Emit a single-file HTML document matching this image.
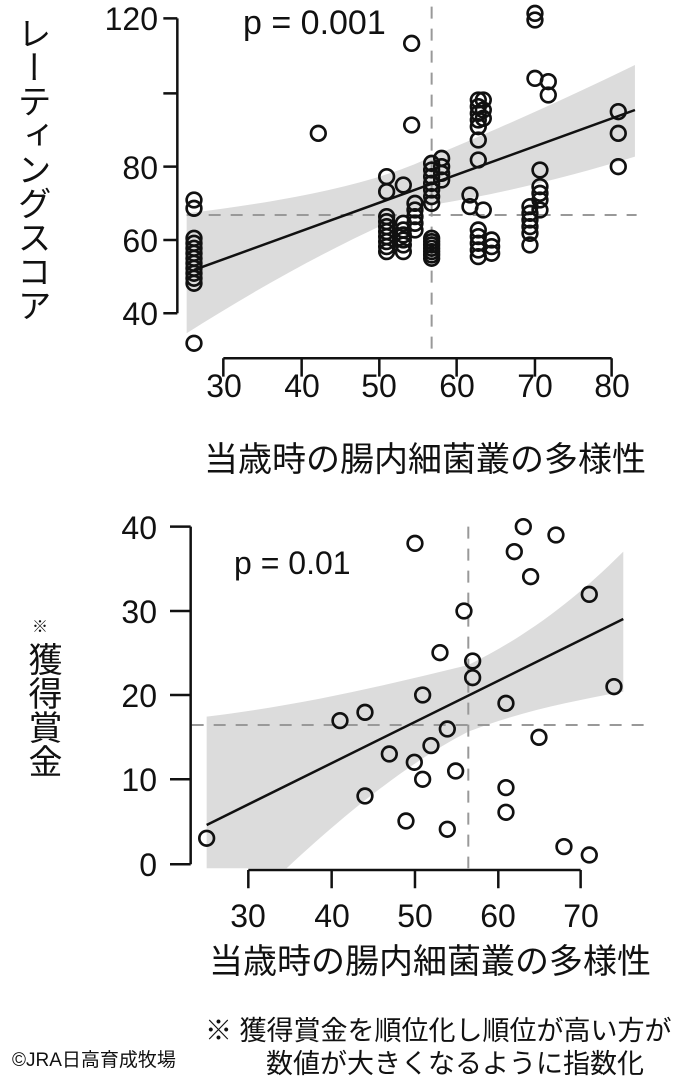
<!DOCTYPE html>
<html><head><meta charset="utf-8"><style>
html,body{margin:0;padding:0;background:#fff;}
svg{display:block;}
text{font-family:"Liberation Sans","Noto Sans CJK JP",sans-serif;fill:#111;}
</style></head><body>
<svg width="681" height="1080" viewBox="0 0 681 1080" xmlns="http://www.w3.org/2000/svg">
<!-- TOP CHART -->
<g transform="translate(170,0) scale(0.3333)">
  <path d="M50,640 C300,610 600,560 785,470 C1000,380 1200,290 1395,195 L1395,470 C1200,530 1000,580 785,615 C600,680 300,840 50,1000 Z" fill="#dcdcdc"/>
  <line x1="785" y1="20" x2="785" y2="1065" stroke="#999" stroke-width="6" stroke-dasharray="36,30"/>
  <line x1="50" y1="645" x2="1400" y2="645" stroke="#999" stroke-width="6" stroke-dasharray="36,30"/>
  <line x1="72" y1="810" x2="1395" y2="330" stroke="#111" stroke-width="7.5"/>
  <g fill="none" stroke="#111" stroke-width="8">
    <circle cx="72" cy="600" r="22"/><circle cx="72" cy="625" r="22"/><circle cx="72" cy="715" r="22"/><circle cx="72" cy="730" r="22"/><circle cx="72" cy="745" r="22"/><circle cx="72" cy="760" r="22"/><circle cx="72" cy="775" r="22"/><circle cx="72" cy="790" r="22"/><circle cx="72" cy="805" r="22"/><circle cx="72" cy="820" r="22"/><circle cx="72" cy="835" r="22"/><circle cx="72" cy="850" r="22"/><circle cx="72" cy="1030" r="22"/>
    <circle cx="445" cy="400" r="22"/>
    <circle cx="650" cy="530" r="22"/><circle cx="650" cy="575" r="22"/><circle cx="650" cy="650" r="22"/><circle cx="650" cy="665" r="22"/><circle cx="650" cy="680" r="22"/><circle cx="650" cy="695" r="22"/><circle cx="650" cy="710" r="22"/><circle cx="650" cy="725" r="22"/><circle cx="650" cy="740" r="22"/><circle cx="650" cy="755" r="22"/>
    <circle cx="700" cy="555" r="22"/><circle cx="700" cy="670" r="22"/><circle cx="700" cy="690" r="22"/><circle cx="700" cy="705" r="22"/><circle cx="700" cy="720" r="22"/><circle cx="700" cy="735" r="22"/><circle cx="700" cy="755" r="22"/>
    <circle cx="725" cy="130" r="22"/><circle cx="725" cy="375" r="22"/>
    <circle cx="735" cy="610" r="22"/><circle cx="735" cy="630" r="22"/><circle cx="735" cy="650" r="22"/><circle cx="735" cy="670" r="22"/><circle cx="735" cy="690" r="22"/>
    <circle cx="785" cy="490" r="22"/><circle cx="785" cy="510" r="22"/><circle cx="785" cy="530" r="22"/><circle cx="785" cy="550" r="22"/><circle cx="785" cy="570" r="22"/><circle cx="785" cy="590" r="22"/><circle cx="785" cy="610" r="22"/>
    <circle cx="815" cy="475" r="22"/><circle cx="815" cy="500" r="22"/><circle cx="815" cy="520" r="22"/><circle cx="815" cy="540" r="22"/>
    <circle cx="900" cy="585" r="22"/><circle cx="900" cy="620" r="22"/>
    <circle cx="925" cy="300" r="22"/><circle cx="925" cy="320" r="22"/><circle cx="925" cy="340" r="22"/><circle cx="925" cy="360" r="22"/><circle cx="925" cy="380" r="22"/><circle cx="925" cy="420" r="22"/><circle cx="925" cy="480" r="22"/>
    <circle cx="925" cy="690" r="22"/><circle cx="925" cy="710" r="22"/><circle cx="925" cy="730" r="22"/><circle cx="925" cy="750" r="22"/><circle cx="925" cy="770" r="22"/>
    <circle cx="940" cy="300" r="22"/><circle cx="940" cy="330" r="22"/><circle cx="940" cy="355" r="22"/><circle cx="940" cy="630" r="22"/>
    <circle cx="965" cy="720" r="22"/><circle cx="965" cy="740" r="22"/><circle cx="965" cy="760" r="22"/>
    <circle cx="1080" cy="620" r="22"/><circle cx="1080" cy="640" r="22"/><circle cx="1080" cy="660" r="22"/><circle cx="1080" cy="680" r="22"/><circle cx="1080" cy="700" r="22"/><circle cx="1080" cy="735" r="22"/>
    <circle cx="1095" cy="40" r="22"/><circle cx="1095" cy="60" r="22"/><circle cx="1095" cy="235" r="22"/>
    <circle cx="1110" cy="510" r="22"/><circle cx="1110" cy="560" r="22"/><circle cx="1110" cy="580" r="22"/><circle cx="1110" cy="600" r="22"/><circle cx="1110" cy="630" r="22"/>
    <circle cx="1135" cy="245" r="22"/><circle cx="1135" cy="285" r="22"/>
    <circle cx="1345" cy="335" r="22"/><circle cx="1345" cy="400" r="22"/><circle cx="1345" cy="500" r="22"/>
    <circle cx="785" cy="715" r="22"/><circle cx="785" cy="725" r="22"/><circle cx="785" cy="735" r="22"/><circle cx="785" cy="745" r="22"/><circle cx="785" cy="755" r="22"/><circle cx="785" cy="765" r="22"/><circle cx="785" cy="775" r="22"/>
  </g>
  <path d="M22,55 V940 M-20,55 H22 M-20,280 H22 M-20,500 H22 M-20,720 H22 M-20,940 H22" stroke="#111" stroke-width="7.5" fill="none"/>
  <path d="M160,1075 H1325 M160,1075 V1130 M395,1075 V1130 M628,1075 V1130 M860,1075 V1130 M1095,1075 V1130 M1325,1075 V1130" stroke="#111" stroke-width="7.5" fill="none"/>
</g>
<g font-size="32" text-anchor="end">
  <text x="158" y="30">120</text><text x="158" y="179">80</text><text x="158" y="252">60</text><text x="158" y="325">40</text>
</g>
<g font-size="32" text-anchor="middle">
  <text x="224" y="397">30</text><text x="302" y="397">40</text><text x="379" y="397">50</text><text x="457" y="397">60</text><text x="535" y="397">70</text><text x="612" y="397">80</text>
</g>
<text x="243" y="34" font-size="34">p = 0.001</text>
<text x="15" y="16" font-size="34" style="writing-mode:vertical-rl" transform="translate(16,0)">レーティングスコア</text>
<text x="425" y="471" font-size="34" text-anchor="middle">当歳時の腸内細菌叢の多様性</text>

<!-- BOTTOM CHART -->
<g transform="translate(170,505) scale(0.3333)">
  <path d="M110,635 C400,600 650,540 895,480 C1100,380 1250,250 1360,140 L1360,560 C1200,590 1050,620 895,680 C700,780 500,950 350,1090 L110,1090 Z" fill="#dcdcdc"/>
  <line x1="895" y1="65" x2="895" y2="1090" stroke="#999" stroke-width="6" stroke-dasharray="36,30"/>
  <line x1="65" y1="660" x2="1440" y2="660" stroke="#999" stroke-width="6" stroke-dasharray="36,30"/>
  <line x1="110" y1="960" x2="1360" y2="342" stroke="#111" stroke-width="7.5"/>
  <g fill="none" stroke="#111" stroke-width="8">
    <circle cx="1060" cy="65" r="22"/><circle cx="1158" cy="90" r="22"/><circle cx="735" cy="115" r="22"/><circle cx="1033" cy="140" r="22"/><circle cx="1082" cy="215" r="22"/><circle cx="1258" cy="268" r="22"/><circle cx="882" cy="318" r="22"/><circle cx="810" cy="443" r="22"/><circle cx="908" cy="468" r="22"/><circle cx="908" cy="518" r="22"/><circle cx="758" cy="570" r="22"/><circle cx="1332" cy="545" r="22"/><circle cx="1008" cy="595" r="22"/><circle cx="585" cy="622" r="22"/><circle cx="510" cy="647" r="22"/><circle cx="832" cy="672" r="22"/><circle cx="1107" cy="697" r="22"/><circle cx="783" cy="722" r="22"/><circle cx="658" cy="747" r="22"/><circle cx="733" cy="772" r="22"/><circle cx="857" cy="798" r="22"/><circle cx="758" cy="823" r="22"/><circle cx="1008" cy="848" r="22"/><circle cx="585" cy="873" r="22"/><circle cx="1008" cy="922" r="22"/><circle cx="708" cy="948" r="22"/><circle cx="832" cy="973" r="22"/><circle cx="110" cy="1000" r="22"/><circle cx="1182" cy="1025" r="22"/><circle cx="1258" cy="1050" r="22"/>
  </g>
  <path d="M62,65 V1078 M0,65 H62 M0,318 H62 M0,570 H62 M0,823 H62 M0,1078 H62" stroke="#111" stroke-width="7.5" fill="none"/>
  <path d="M235,1095 H1232 M235,1095 V1150 M485,1095 V1150 M735,1095 V1150 M985,1095 V1150 M1232,1095 V1150" stroke="#111" stroke-width="7.5" fill="none"/>
</g>
<g font-size="32" text-anchor="end">
  <text x="157" y="539">40</text><text x="157" y="623">30</text><text x="157" y="707">20</text><text x="157" y="791">10</text><text x="157" y="876">0</text>
</g>
<g font-size="32" text-anchor="middle">
  <text x="248" y="927">30</text><text x="332" y="927">40</text><text x="415" y="927">50</text><text x="498" y="927">60</text><text x="581" y="927">70</text>
</g>
<text x="234" y="574" font-size="32">p = 0.01</text>
<text x="40" y="632" font-size="16" text-anchor="middle">※</text>
<text x="22" y="642" font-size="34" style="writing-mode:vertical-rl" transform="translate(20,0)">獲得賞金</text>
<text x="430" y="973" font-size="34" text-anchor="middle">当歳時の腸内細菌叢の多様性</text>
<text x="205" y="1040" font-size="27">※ 獲得賞金を順位化し順位が高い方が</text>
<text x="455" y="1073" font-size="27" text-anchor="middle">数値が大きくなるように指数化</text>
<text x="12" y="1066" font-size="19">©JRA日高育成牧場</text>
</svg>
</body></html>
